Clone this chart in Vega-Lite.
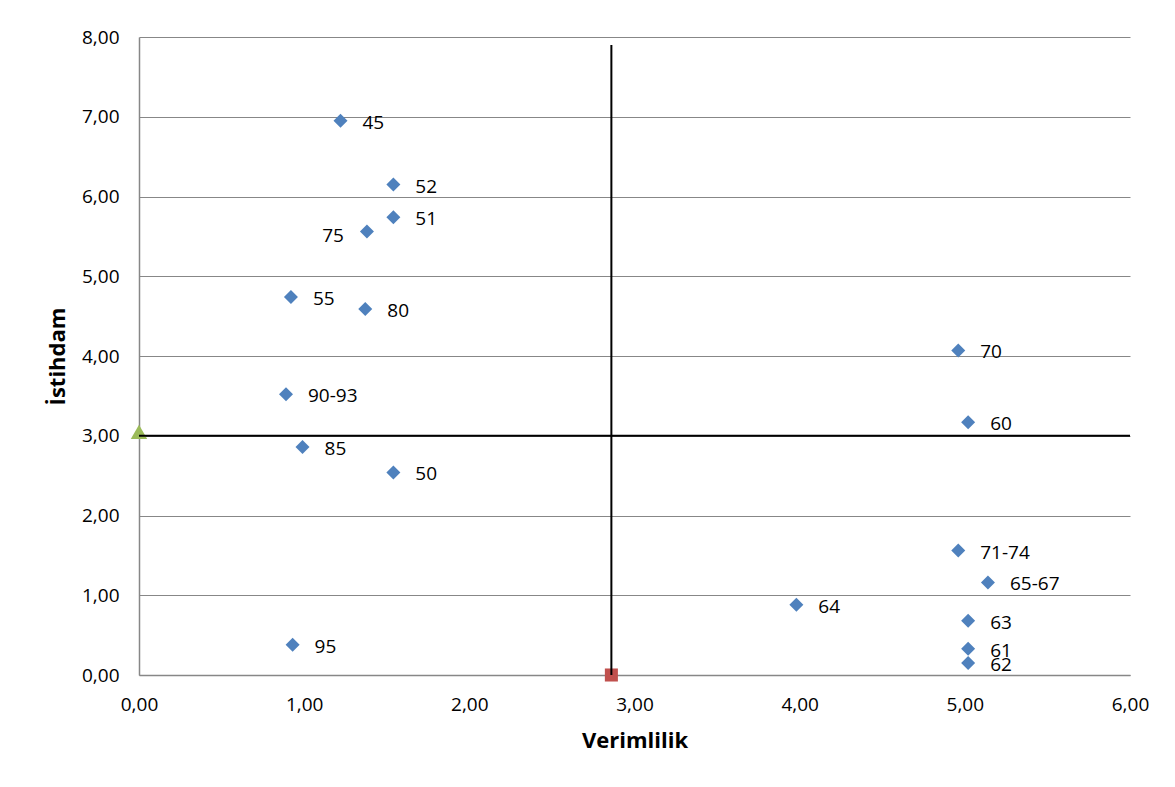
{
  "$schema": "https://vega.github.io/schema/vega-lite/v6.json",
  "autosize": {"type": "none"},
  "padding": {"left": 139, "top": 37, "right": 45, "bottom": 112},
  "width": 991,
  "height": 638,
  "background": "#ffffff",
  "config": {
    "view": {"stroke": null},
    "font": "Open Sans",
    "axis": {"labelFont": "Open Sans", "titleFont": "Open Sans", "labelColor": "#000000", "titleColor": "#000000"}
  },
  "datasets": {
    "points": [
      {"verimlilik": 1.22, "istihdam": 6.95, "label": "45"},
      {"verimlilik": 1.54, "istihdam": 6.15, "label": "52"},
      {"verimlilik": 1.54, "istihdam": 5.74, "label": "51"},
      {"verimlilik": 1.38, "istihdam": 5.56, "label": "75"},
      {"verimlilik": 0.92, "istihdam": 4.74, "label": "55"},
      {"verimlilik": 1.37, "istihdam": 4.59, "label": "80"},
      {"verimlilik": 4.96, "istihdam": 4.07, "label": "70"},
      {"verimlilik": 0.89, "istihdam": 3.52, "label": "90-93"},
      {"verimlilik": 5.02, "istihdam": 3.17, "label": "60"},
      {"verimlilik": 0.99, "istihdam": 2.86, "label": "85"},
      {"verimlilik": 1.54, "istihdam": 2.54, "label": "50"},
      {"verimlilik": 4.96, "istihdam": 1.56, "label": "71-74"},
      {"verimlilik": 5.14, "istihdam": 1.16, "label": "65-67"},
      {"verimlilik": 3.98, "istihdam": 0.88, "label": "64"},
      {"verimlilik": 5.02, "istihdam": 0.68, "label": "63"},
      {"verimlilik": 5.02, "istihdam": 0.33, "label": "61"},
      {"verimlilik": 5.02, "istihdam": 0.15, "label": "62"},
      {"verimlilik": 0.93, "istihdam": 0.38, "label": "95"}
    ],
    "avgX": [{"verimlilik": 2.86, "istihdam": 0, "istihdam2": 7.9}],
    "avgY": [{"verimlilik": 0, "verimlilik2": 6, "istihdam": 3.0, "marker": 3.05}]
  },
  "layer": [
    {
      "data": {"name": "points"},
      "mark": {"type": "point", "shape": "diamond", "filled": true, "size": 196, "color": "#4F81BD", "opacity": 1},
      "encoding": {
        "x": {
          "field": "verimlilik", "type": "quantitative",
          "scale": {"domain": [0, 6], "nice": false, "zero": true},
          "axis": {
            "title": "Verimlilik", "values": [0, 1, 2, 3, 4, 5, 6],
            "labelExpr": "replace(format(datum.value, '.2f'), '.', ',')",
            "labelFontSize": 19, "labelPadding": 20, "ticks": false, "labelFlush": false, "labelOverlap": false,
            "domainColor": "#878787", "domainWidth": 1.5, "grid": false,
            "titleFontSize": 22, "titleFontWeight": "bold", "titlePadding": 16
          }
        },
        "y": {
          "field": "istihdam", "type": "quantitative",
          "scale": {"domain": [0, 8], "nice": false, "zero": true},
          "axis": {
            "title": "İstihdam", "values": [0, 1, 2, 3, 4, 5, 6, 7, 8],
            "labelExpr": "replace(format(datum.value, '.2f'), '.', ',')",
            "labelFontSize": 19, "labelPadding": 20, "ticks": false, "labelFlush": false, "labelOverlap": false,
            "domainColor": "#878787", "domainWidth": 1.5,
            "grid": true, "gridColor": "#878787", "gridWidth": 1.2,
            "titleFontSize": 22, "titleFontWeight": "bold", "titlePadding": 12
          }
        }
      }
    },
    {
      "data": {"name": "points"},
      "transform": [{"filter": "datum.label !== '75'"}],
      "mark": {"type": "text", "align": "left", "baseline": "middle", "dx": 22, "dy": 2, "fontSize": 19, "font": "Open Sans", "color": "#000000"},
      "encoding": {
        "x": {"field": "verimlilik", "type": "quantitative"},
        "y": {"field": "istihdam", "type": "quantitative"},
        "text": {"field": "label"}
      }
    },
    {
      "data": {"name": "points"},
      "transform": [{"filter": "datum.label === '75'"}],
      "mark": {"type": "text", "align": "right", "baseline": "middle", "dx": -23, "dy": 4, "fontSize": 19, "font": "Open Sans", "color": "#000000"},
      "encoding": {
        "x": {"field": "verimlilik", "type": "quantitative"},
        "y": {"field": "istihdam", "type": "quantitative"},
        "text": {"field": "label"}
      }
    },
    {
      "data": {"name": "avgX"},
      "mark": {"type": "point", "shape": "square", "filled": true, "size": 170, "color": "#C0504D", "opacity": 1},
      "encoding": {
        "x": {"field": "verimlilik", "type": "quantitative"},
        "y": {"field": "istihdam", "type": "quantitative"}
      }
    },
    {
      "data": {"name": "avgY"},
      "mark": {"type": "point", "shape": "triangle-up", "filled": true, "size": 270, "color": "#9BBB59", "opacity": 1},
      "encoding": {
        "x": {"field": "verimlilik", "type": "quantitative"},
        "y": {"field": "marker", "type": "quantitative"}
      }
    },
    {
      "data": {"name": "avgX"},
      "mark": {"type": "rule", "color": "#000000", "strokeWidth": 2},
      "encoding": {
        "x": {"field": "verimlilik", "type": "quantitative"},
        "y": {"field": "istihdam", "type": "quantitative"},
        "y2": {"field": "istihdam2"}
      }
    },
    {
      "data": {"name": "avgY"},
      "mark": {"type": "rule", "color": "#000000", "strokeWidth": 2},
      "encoding": {
        "x": {"field": "verimlilik", "type": "quantitative"},
        "x2": {"field": "verimlilik2"},
        "y": {"field": "istihdam", "type": "quantitative"}
      }
    }
  ]
}
